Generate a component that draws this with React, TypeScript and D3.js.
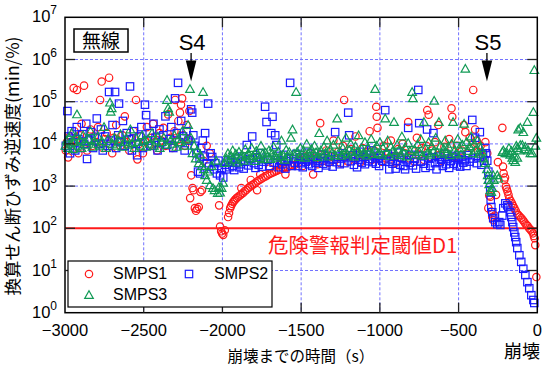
import React from 'react';
import * as d3 from 'd3';

type Pt = [number, number];

// time before collapse (s), inverse shear strain velocity (min/%)
const smps1: Pt[] = [
  [-2995, 7000], [-2988, 11000], [-2980, 4800], [-2970, 15000], [-2962, 9000], [-2945, 210000], [-2940, 20000],
  [-2930, 12000], [-2924, 190000], [-2915, 6000], [-2905, 16000], [-2895, 30000], [-2879, 240000], [-2875, 10000],
  [-2860, 7000], [-2850, 13000], [-2838, 22000], [-2825, 9000], [-2812, 15000], [-2800, 11000], [-2790, 25000],
  [-2777, 110000], [-2767, 300000], [-2760, 8000], [-2748, 13000], [-2735, 18000], [-2720, 370000], [-2715, 10000],
  [-2700, 6000], [-2690, 14000], [-2675, 28000], [-2660, 12000], [-2648, 9000], [-2635, 16000], [-2620, 45000],
  [-2605, 11000], [-2592, 7000], [-2580, 13000], [-2565, 20000], [-2549, 110000], [-2540, 4300], [-2530, 10000],
  [-2518, 15000], [-2505, 6000], [-2492, 12000], [-2480, 25000], [-2465, 9000], [-2452, 14000], [-2440, 30000],
  [-2428, 11000], [-2415, 7000], [-2400, 18000], [-2388, 12000], [-2375, 24000], [-2360, 9000], [-2345, 50000],
  [-2330, 14000], [-2318, 8000], [-2305, 20000], [-2300, 110000], [-2290, 12000], [-2280, 35000], [-2270, 55000],
  [-2263, 85000], [-2256, 120000], [-2248, 16000], [-2238, 9000], [-2228, 28000], [-2218, 13000], [-2210, 60000],
  [-2205, 520], [-2198, 1800], [-2190, 900], [-2184, 800], [-2175, 300], [-2168, 260], [-2160, 290], [-2150, 320],
  [-2140, 730], [-2130, 800], [-2120, 4000], [-2100, 9000], [-2080, 6000],
  [-2021, 350], [-2015, 110], [-2008, 85], [-2002, 75], [-1995, 70], [-1985, 90],
  [-1964, 185], [-1958, 230], [-1951, 300], [-1945, 340], [-1938, 380], [-1932, 420], [-1925, 450], [-1919, 480],
  [-1910, 520], [-1900, 560], [-1890, 600], [-1880, 640], [-1869, 690], [-1858, 760], [-1847, 820], [-1836, 900],
  [-1825, 970], [-1814, 1050], [-1803, 1100], [-1790, 1200], [-1778, 1300], [-1765, 1400], [-1752, 1500],
  [-1740, 1600], [-1727, 1700], [-1714, 1800], [-1700, 1950], [-1686, 2050], [-1672, 2150], [-1658, 2300],
  [-1644, 2400], [-1630, 2500], [-1615, 2650], [-1600, 2750], [-1585, 2850], [-1570, 3000], [-1555, 3100],
  [-1540, 3200], [-1880, 900], [-1820, 1400], [-1760, 1900], [-1700, 2600], [-1640, 3100], [-1780, 800], [-1600, 1900],
  [-1520, 3500], [-1505, 4200], [-1490, 3000], [-1475, 5000], [-1460, 3800], [-1445, 6000], [-1424, 1900],
  [-1410, 4500], [-1395, 3300], [-1379, 31000], [-1370, 5500], [-1355, 4000], [-1340, 7000], [-1325, 3600],
  [-1310, 5000], [-1295, 12000], [-1280, 4200], [-1265, 6500], [-1250, 3500], [-1235, 9000], [-1227, 110000],
  [-1215, 5000], [-1200, 3800], [-1185, 7500], [-1170, 4500], [-1155, 15000], [-1140, 5500], [-1125, 3700],
  [-1110, 8000], [-1095, 4800], [-1080, 6500], [-1065, 20000], [-1050, 4200], [-1035, 7000], [-1023, 76000],
  [-1020, 44000], [-1015, 24000], [-1005, 5500], [-990, 3800], [-975, 9000], [-960, 4500], [-945, 6000],
  [-930, 12000], [-915, 5000], [-900, 3600], [-885, 7500], [-870, 4800], [-855, 10000], [-840, 6000], [-820, 33000],
  [-810, 4500], [-795, 7000], [-780, 3800], [-765, 14000], [-750, 5500], [-735, 8000], [-720, 4200], [-705, 9000],
  [-699, 63000], [-690, 49000], [-680, 5000], [-665, 7000], [-650, 11000], [-629, 28000], [-620, 5500], [-605, 4000],
  [-590, 8500], [-575, 6000], [-560, 13000], [-545, 70000], [-540, 44000], [-525, 5000], [-510, 9000], [-495, 4500],
  [-480, 7000], [-466, 28000], [-457, 19000], [-445, 6000], [-430, 14000], [-420, 8000], [-407, 190000],
  [-395, 22000], [-385, 12000], [-375, 6500], [-360, 9000], [-345, 5000], [-330, 11000], [-318, 6000],
  [-311, 300], [-305, 600], [-298, 560], [-292, 250], [-286, 185], [-280, 155], [-270, 200], [-262, 620], [-250, 3700],
  [-222, 24000], [-218, 2900], [-214, 2000], [-210, 1400], [-199, 970], [-189, 740], [-178, 510], [-161, 390],
  [-146, 300], [-129, 225], [-112, 190], [-93, 160], [-76, 130], [-61, 113], [-44, 94], [-27, 76], [-17, 58],
  [-13, 40], [-6, 7], [-205, 1600], [-194, 850], [-183, 620], [-170, 450], [-154, 340], [-137, 260], [-120, 205],
  [-102, 175], [-85, 145], [-68, 120], [-52, 100], [-36, 85], [-22, 66],
];

const smps2: Pt[] = [
  [-2995, 9000], [-2985, 60000], [-2978, 15000], [-2968, 6000], [-2958, 20000], [-2948, 11000], [-2935, 7000],
  [-2925, 25000], [-2915, 13000], [-2903, 8000], [-2890, 17000], [-2878, 10000], [-2865, 30000], [-2860, 4400],
  [-2848, 12000], [-2835, 19000], [-2822, 8000], [-2810, 14000], [-2798, 40000], [-2785, 10000], [-2772, 22000],
  [-2760, 7000], [-2745, 15000], [-2730, 9000], [-2720, 170000], [-2710, 12000], [-2698, 28000], [-2682, 170000],
  [-2675, 8000], [-2662, 16000], [-2657, 90000], [-2645, 11000], [-2632, 35000], [-2620, 9000], [-2608, 18000],
  [-2595, 13000], [-2587, 230000], [-2575, 7000], [-2562, 20000], [-2550, 10000], [-2542, 5400], [-2530, 15000],
  [-2515, 25000], [-2505, 8000], [-2492, 85000], [-2485, 48000], [-2475, 12000], [-2462, 18000], [-2450, 9000],
  [-2438, 30000], [-2425, 14000], [-2412, 7000], [-2400, 22000], [-2388, 11000], [-2375, 16000], [-2362, 45000],
  [-2350, 9500], [-2338, 13000], [-2325, 25000], [-2312, 8000], [-2301, 120000], [-2290, 18000], [-2282, 280000],
  [-2275, 11000], [-2262, 35000], [-2250, 15000], [-2240, 7000], [-2228, 20000], [-2215, 12000], [-2199, 66000],
  [-2192, 55000], [-2185, 16000], [-2175, 9000], [-2165, 6000], [-2155, 2200], [-2145, 4500], [-2142, 2000],
  [-2135, 8000], [-2125, 12000], [-2115, 5000], [-2110, 18000], [-2100, 3500], [-2091, 90000], [-2085, 2900],
  [-2075, 6000], [-2065, 4900], [-2055, 2500], [-2045, 3500], [-2035, 2000], [-2025, 4000], [-2015, 1800],
  [-2005, 2600], [-1995, 1600],
  [-1985, 3200], [-1975, 2500], [-1965, 3800], [-1955, 2800], [-1945, 4200], [-1935, 3000], [-1925, 2400],
  [-1915, 3600], [-1905, 4500], [-1895, 2800], [-1885, 3300], [-1875, 5000], [-1865, 2600], [-1855, 3800],
  [-1845, 9400], [-1835, 3100], [-1825, 4400], [-1811, 15000], [-1800, 3500], [-1790, 2700], [-1780, 4800],
  [-1770, 3200], [-1760, 6000], [-1750, 2900], [-1740, 3800], [-1729, 76000], [-1720, 33000], [-1710, 4200],
  [-1700, 3000], [-1690, 18000], [-1682, 44000], [-1675, 3600], [-1665, 16000], [-1658, 9400], [-1650, 5200],
  [-1640, 2800], [-1630, 4000], [-1620, 3300], [-1610, 5500], [-1600, 2600], [-1590, 3900], [-1580, 4600],
  [-1570, 280000], [-1560, 3000], [-1550, 4300], [-1540, 3600], [-1530, 5800], [-1520, 3000], [-1510, 4800],
  [-1500, 3500], [-1490, 2800], [-1480, 4500], [-1470, 3800], [-1460, 6200], [-1450, 3300], [-1440, 4100],
  [-1430, 3000], [-1420, 5000], [-1410, 3600], [-1400, 4400], [-1390, 2700], [-1380, 3900], [-1370, 5600],
  [-1360, 3400], [-1350, 4600], [-1340, 3100], [-1330, 5200], [-1320, 3800], [-1310, 4300], [-1300, 2900],
  [-1284, 19000], [-1275, 3700], [-1265, 5000], [-1255, 3300], [-1245, 4500], [-1235, 6000], [-1225, 3500],
  [-1215, 4800], [-1201, 55000], [-1195, 16000], [-1185, 3900], [-1175, 5400], [-1165, 3200], [-1155, 4600],
  [-1145, 2800], [-1135, 4200], [-1125, 6500], [-1115, 3600], [-1105, 4900], [-1095, 3300], [-1085, 5500],
  [-1075, 3900], [-1065, 4400], [-1055, 7000], [-1045, 3700], [-1035, 5100], [-1025, 3400], [-1015, 4600],
  [-1005, 3000], [-995, 5300], [-985, 4000], [-966, 63000], [-960, 3800], [-950, 5700], [-940, 2500], [-930, 4300],
  [-920, 3400], [-910, 5000], [-900, 2600], [-890, 4000], [-880, 6200], [-870, 3200], [-860, 4700], [-850, 3000],
  [-840, 2500], [-830, 4100], [-820, 24000], [-810, 3600], [-800, 5500], [-790, 3100], [-780, 4400], [-770, 2600],
  [-756, 190000], [-750, 31000], [-740, 3800], [-730, 5200], [-720, 3400], [-710, 2700], [-700, 22000], [-690, 4600],
  [-680, 3000], [-670, 4800], [-660, 18000], [-650, 3500], [-640, 2500], [-630, 5000], [-620, 3700], [-610, 4200],
  [-600, 3000], [-590, 5800], [-580, 3300], [-570, 4500], [-560, 2700], [-550, 3900], [-540, 5200], [-530, 3400],
  [-520, 4700], [-510, 3100], [-500, 4300], [-490, 2900], [-480, 5000], [-470, 3600], [-460, 4100], [-450, 3000],
  [-440, 5400], [-430, 3800], [-413, 37000], [-405, 4500], [-395, 14000], [-385, 3500], [-375, 4800], [-365, 19000],
  [-355, 3200], [-345, 5600], [-336, 4000], [-330, 8000], [-325, 6000], [-318, 4000], [-311, 2200], [-305, 1400],
  [-299, 800], [-296, 470], [-292, 320], [-286, 240], [-280, 175], [-267, 140], [-254, 125], [-242, 140],
  [-235, 120], [-222, 200], [-216, 300], [-203, 390], [-191, 350], [-184, 320], [-172, 240], [-165, 185],
  [-159, 140], [-153, 107], [-146, 80], [-140, 62], [-134, 47], [-127, 34], [-114, 23], [-102, 16], [-89, 11],
  [-76, 7.8], [-63, 5.3], [-51, 3.8], [-38, 2.6], [-25, 2], [-19, 1.7],
];

const smps3: Pt[] = [
  [-2998, 9000], [-2990, 12000], [-2982, 8000], [-2975, 14000], [-2966, 10000], [-2958, 18000], [-2950, 7500],
  [-2942, 11000], [-2930, 15000], [-2924, 50000], [-2918, 9000], [-2906, 12500], [-2895, 8000], [-2885, 16000],
  [-2875, 11000], [-2862, 9500], [-2850, 13000], [-2838, 20000], [-2826, 8500], [-2815, 12000], [-2803, 10000],
  [-2790, 15000], [-2778, 9000], [-2765, 11500], [-2752, 25000], [-2740, 8000], [-2728, 13000], [-2714, 95000],
  [-2710, 58000], [-2703, 70000], [-2698, 10000], [-2686, 14000], [-2673, 9000], [-2660, 12000], [-2648, 17000],
  [-2635, 8500], [-2622, 11000], [-2610, 13500], [-2597, 9500], [-2585, 22000], [-2572, 10500], [-2560, 8000],
  [-2548, 14000], [-2535, 11000], [-2522, 9000], [-2510, 16000], [-2498, 12000], [-2485, 8500], [-2472, 13000],
  [-2460, 10000], [-2447, 18000], [-2435, 9000], [-2422, 12000], [-2410, 15000], [-2398, 8000], [-2385, 11000],
  [-2372, 14000], [-2360, 9500], [-2352, 110000], [-2345, 70000], [-2338, 58000], [-2330, 12000], [-2318, 10000],
  [-2305, 16000], [-2293, 8500], [-2280, 13000], [-2268, 11000], [-2255, 20000], [-2243, 9000], [-2230, 12500],
  [-2218, 28000], [-2206, 200000], [-2200, 14000], [-2190, 6000], [-2180, 9000], [-2170, 4500], [-2160, 7000],
  [-2150, 3500], [-2140, 5500], [-2130, 3000], [-2123, 170000], [-2118, 2500], [-2110, 1800], [-2100, 1400],
  [-2090, 2200], [-2080, 1050], [-2070, 3000], [-2060, 900], [-2050, 800], [-2040, 4000], [-2030, 680],
  [-2022, 950], [-2015, 700], [-2005, 900], [-1995, 1200],
  [-1985, 3500], [-1975, 4500], [-1965, 6000], [-1955, 3800], [-1945, 5200], [-1935, 7000], [-1925, 4200],
  [-1915, 5800], [-1905, 3600], [-1895, 6500], [-1885, 4800], [-1875, 5500], [-1865, 4000], [-1855, 7500],
  [-1845, 5000], [-1835, 6000], [-1825, 4500], [-1815, 8000], [-1805, 5200], [-1795, 3900], [-1785, 6800],
  [-1775, 5400], [-1765, 4600], [-1755, 9000], [-1745, 5800], [-1735, 4300], [-1725, 6200], [-1715, 5000],
  [-1705, 7000], [-1695, 4400], [-1685, 6000], [-1675, 8500], [-1665, 5300], [-1655, 4700], [-1645, 6600],
  [-1635, 5100], [-1625, 12000], [-1615, 5600], [-1605, 4200], [-1595, 7200], [-1585, 5000], [-1575, 6400],
  [-1565, 14000], [-1555, 22000], [-1545, 5800], [-1532, 170000], [-1525, 6500], [-1515, 4900], [-1505, 8000],
  [-1495, 5500], [-1485, 6900], [-1475, 4700], [-1465, 10000], [-1455, 6000], [-1445, 5200], [-1435, 7500],
  [-1425, 5800], [-1415, 9000], [-1405, 6300], [-1395, 4800], [-1385, 18000], [-1375, 7000], [-1365, 5500],
  [-1355, 8500], [-1345, 6200], [-1335, 12000], [-1325, 5000], [-1315, 7600], [-1305, 6000], [-1295, 9500],
  [-1285, 5400], [-1271, 40000], [-1265, 12000], [-1255, 6800], [-1245, 5200], [-1235, 8000], [-1225, 6000],
  [-1215, 14000], [-1205, 5600], [-1195, 7200], [-1185, 10000], [-1175, 6400], [-1165, 5000], [-1155, 8800],
  [-1145, 6600], [-1135, 16000], [-1125, 5800], [-1115, 7700], [-1105, 6100], [-1095, 11000], [-1085, 5300],
  [-1075, 8200], [-1065, 6500], [-1055, 13000], [-1045, 5700], [-1035, 7400], [-1030, 200000], [-1020, 9000],
  [-1010, 6000], [-1000, 11000], [-990, 5500], [-980, 8000], [-966, 40000], [-960, 6300], [-950, 12000],
  [-940, 5200], [-930, 8600], [-920, 6700], [-910, 33000], [-900, 5900], [-890, 9500], [-880, 7000], [-870, 5400],
  [-860, 15000], [-850, 6200], [-840, 8300], [-830, 5000], [-820, 10500], [-810, 6800], [-795, 170000],
  [-790, 120000], [-780, 7500], [-770, 5600], [-760, 9800], [-750, 6400], [-740, 13000], [-730, 5200],
  [-720, 33000], [-710, 7800], [-700, 6000], [-690, 11000], [-680, 5500], [-670, 8800], [-660, 6600],
  [-655, 105000], [-645, 14000], [-635, 6300], [-625, 33000], [-615, 9000], [-605, 5800], [-595, 7600],
  [-585, 12000], [-575, 6200], [-565, 8500], [-555, 5400], [-545, 10000], [-535, 33000], [-525, 7000],
  [-515, 6000], [-505, 13000], [-495, 8000], [-485, 5600], [-475, 9500], [-465, 30000], [-457, 600000],
  [-450, 11000], [-440, 6800], [-430, 8800], [-420, 15000], [-410, 6000], [-400, 10000], [-390, 7200],
  [-380, 12000], [-370, 5800], [-360, 8000], [-350, 6500], [-340, 4500], [-330, 3500], [-320, 2500], [-315, 1800],
  [-311, 1400], [-305, 1100], [-299, 800], [-292, 720], [-286, 900], [-280, 1800], [-276, 1400], [-254, 1800],
  [-248, 1500], [-222, 6400], [-216, 7000], [-203, 6000], [-191, 6000], [-180, 8000], [-172, 5500], [-165, 6800],
  [-159, 4700], [-153, 4100], [-146, 5200], [-140, 3700], [-133, 9000], [-127, 4700], [-121, 22000], [-127, 8000],
  [-114, 7000], [-108, 24000], [-108, 9400], [-95, 9400], [-89, 19000], [-82, 7500], [-76, 8500], [-63, 33000],
  [-57, 7000], [-44, 6000], [-32, 6000], [-25, 57000], [-19, 560000], [-12, 9000], [-6, 14000],
];

const xTicks = [-3000, -2500, -2000, -1500, -1000, -500, 0];
const yExponents = [0, 1, 2, 3, 4, 5, 6, 7];
const dangerThreshold = 100;
const thresholdLabel = '危険警報判定閾値D1';
const stageMarks = [
  { label: 'S4', t: -2199 },
  { label: 'S5', t: -320 },
];

const LATIN = "'Liberation Sans', Arial, sans-serif";
const JP = "'Noto Sans CJK JP', sans-serif";
const RED = '#ff1a1a';
const BLUE = '#1a1aff';
const GREEN = '#119a55';

const PLOT = { left: 65, right: 537.3, top: 17.3, bottom: 312.7 };

const triPath = (cx: number, cy: number, s = 4.3) =>
  `M${cx},${cy - s}L${cx + s},${cy + s * 0.78}L${cx - s},${cy + s * 0.78}Z`;

export default function App() {
  const x = d3.scaleLinear().domain([-3000, 0]).range([PLOT.left, PLOT.right]);
  const y = d3.scaleLog().domain([1, 1e7]).range([PLOT.bottom, PLOT.top]);
  const fmt = d3.format('d');
  const sq = 7.4;
  const sw = 1.2;

  return (
    <svg width={542} height={370} style={{ position: 'absolute', left: 0, top: 0, background: '#fff' }}>
      {/* grid */}
      <g stroke="#5a5aff" strokeWidth={1} strokeDasharray="3,2" opacity={0.85}>
        {xTicks.slice(1, -1).map((t) => (
          <line key={'gx' + t} x1={x(t)} x2={x(t)} y1={PLOT.top} y2={PLOT.bottom} />
        ))}
        {yExponents.slice(1, -1).filter((e) => Math.pow(10, e) !== dangerThreshold).map((e) => (
          <line key={'gy' + e} x1={PLOT.left} x2={PLOT.right} y1={y(Math.pow(10, e))} y2={y(Math.pow(10, e))} />
        ))}
      </g>

      {/* threshold */}
      <line x1={PLOT.left} x2={PLOT.right} y1={y(dangerThreshold)} y2={y(dangerThreshold)} stroke={RED} strokeWidth={2} />

      {/* series */}
      <g fill="none" stroke={RED} strokeWidth={sw}>
        {smps1.map(([t, v], i) => (
          <circle key={i} cx={x(t)} cy={y(v)} r={3.7} />
        ))}
      </g>
      <g fill="none" stroke={BLUE} strokeWidth={sw}>
        {smps2.map(([t, v], i) => (
          <rect key={i} x={x(t) - sq / 2} y={y(v) - sq / 2} width={sq} height={sq} />
        ))}
      </g>
      <g fill="none" stroke={GREEN} strokeWidth={sw}>
        {smps3.map(([t, v], i) => (
          <path key={i} d={triPath(x(t), y(v))} />
        ))}
      </g>

      {/* threshold label */}
      <text x={268} y={253} fill={RED} fontFamily={JP} fontSize={20.5}>{thresholdLabel}</text>

      {/* frame and ticks */}
      <rect x={PLOT.left} y={PLOT.top} width={PLOT.right - PLOT.left} height={PLOT.bottom - PLOT.top}
        fill="none" stroke="#000" strokeWidth={1.5} />
      <g stroke="#222" strokeWidth={1.3}>
        {xTicks.slice(1, -1).map((t) => (
          <g key={'tx' + t}>
            <line x1={x(t)} x2={x(t)} y1={PLOT.bottom} y2={PLOT.bottom - 10} />
            <line x1={x(t)} x2={x(t)} y1={PLOT.top} y2={PLOT.top + 10} />
          </g>
        ))}
        {yExponents.slice(1, -1).map((e) => (
          <g key={'ty' + e}>
            <line x1={PLOT.left} x2={PLOT.left + 10} y1={y(Math.pow(10, e))} y2={y(Math.pow(10, e))} />
            <line x1={PLOT.right} x2={PLOT.right - 10} y1={y(Math.pow(10, e))} y2={y(Math.pow(10, e))} />
          </g>
        ))}
      </g>

      {/* x tick labels */}
      <g fontFamily={LATIN} fontSize={16.5} fill="#000" textAnchor="middle">
        {xTicks.map((t) => (
          <text key={'lx' + t} x={x(t)} y={336}>{fmt(t)}</text>
        ))}
      </g>
      {/* y tick labels */}
      <g fontFamily={LATIN} fill="#000" textAnchor="end">
        {yExponents.map((e) => (
          <text key={'ly' + e} x={57} y={y(Math.pow(10, e)) + 5} fontSize={16.5}>
            10<tspan dy={-8} fontSize={12}>{e}</tspan>
          </text>
        ))}
      </g>

      {/* axis titles */}
      <text x={301} y={362} textAnchor="middle" fontFamily={JP} fontSize={15.5}>崩壊までの時間（s）</text>
      <text x={522} y={358} textAnchor="middle" fontFamily={JP} fontSize={18}>崩壊</text>
      <text transform="translate(19,166) rotate(-90)" textAnchor="middle" fontFamily={JP} fontSize={17.5}>
        換算せん断ひずみ逆速度(min/%)
      </text>

      {/* wireless tag */}
      <rect x={74} y={29} width={54} height={23} fill="#fff" stroke="#000" strokeWidth={1.5} />
      <text x={101} y={48} textAnchor="middle" fontFamily={JP} fontSize={19}>無線</text>

      {/* stage arrows */}
      {stageMarks.map((s) => {
        const cx = x(s.t);
        return (
          <g key={s.label}>
            <text x={cx + 1} y={50} textAnchor="middle" fontFamily={LATIN} fontSize={22}>{s.label}</text>
            <line x1={cx} x2={cx} y1={53} y2={61} stroke="#000" strokeWidth={1.3} />
            <path d={`M${cx - 5.3},60.5L${cx + 5.3},60.5L${cx},81.5Z`} fill="#000" />
          </g>
        );
      })}

      {/* legend */}
      <rect x={68} y={261} width={204} height={46} fill="#fff" stroke="#000" strokeWidth={1.2} />
      <g fontFamily={LATIN} fontSize={16} fill="#000">
        <circle cx={89} cy={274} r={3.7} fill="none" stroke={RED} strokeWidth={sw} />
        <text x={113} y={279}>SMPS1</text>
        <rect x={189 - sq / 2} y={274 - sq / 2} width={sq} height={sq} fill="none" stroke={BLUE} strokeWidth={sw} />
        <text x={214} y={279}>SMPS2</text>
        <path d={triPath(89, 295)} fill="none" stroke={GREEN} strokeWidth={sw} />
        <text x={113} y={300}>SMPS3</text>
      </g>
    </svg>
  );
}
